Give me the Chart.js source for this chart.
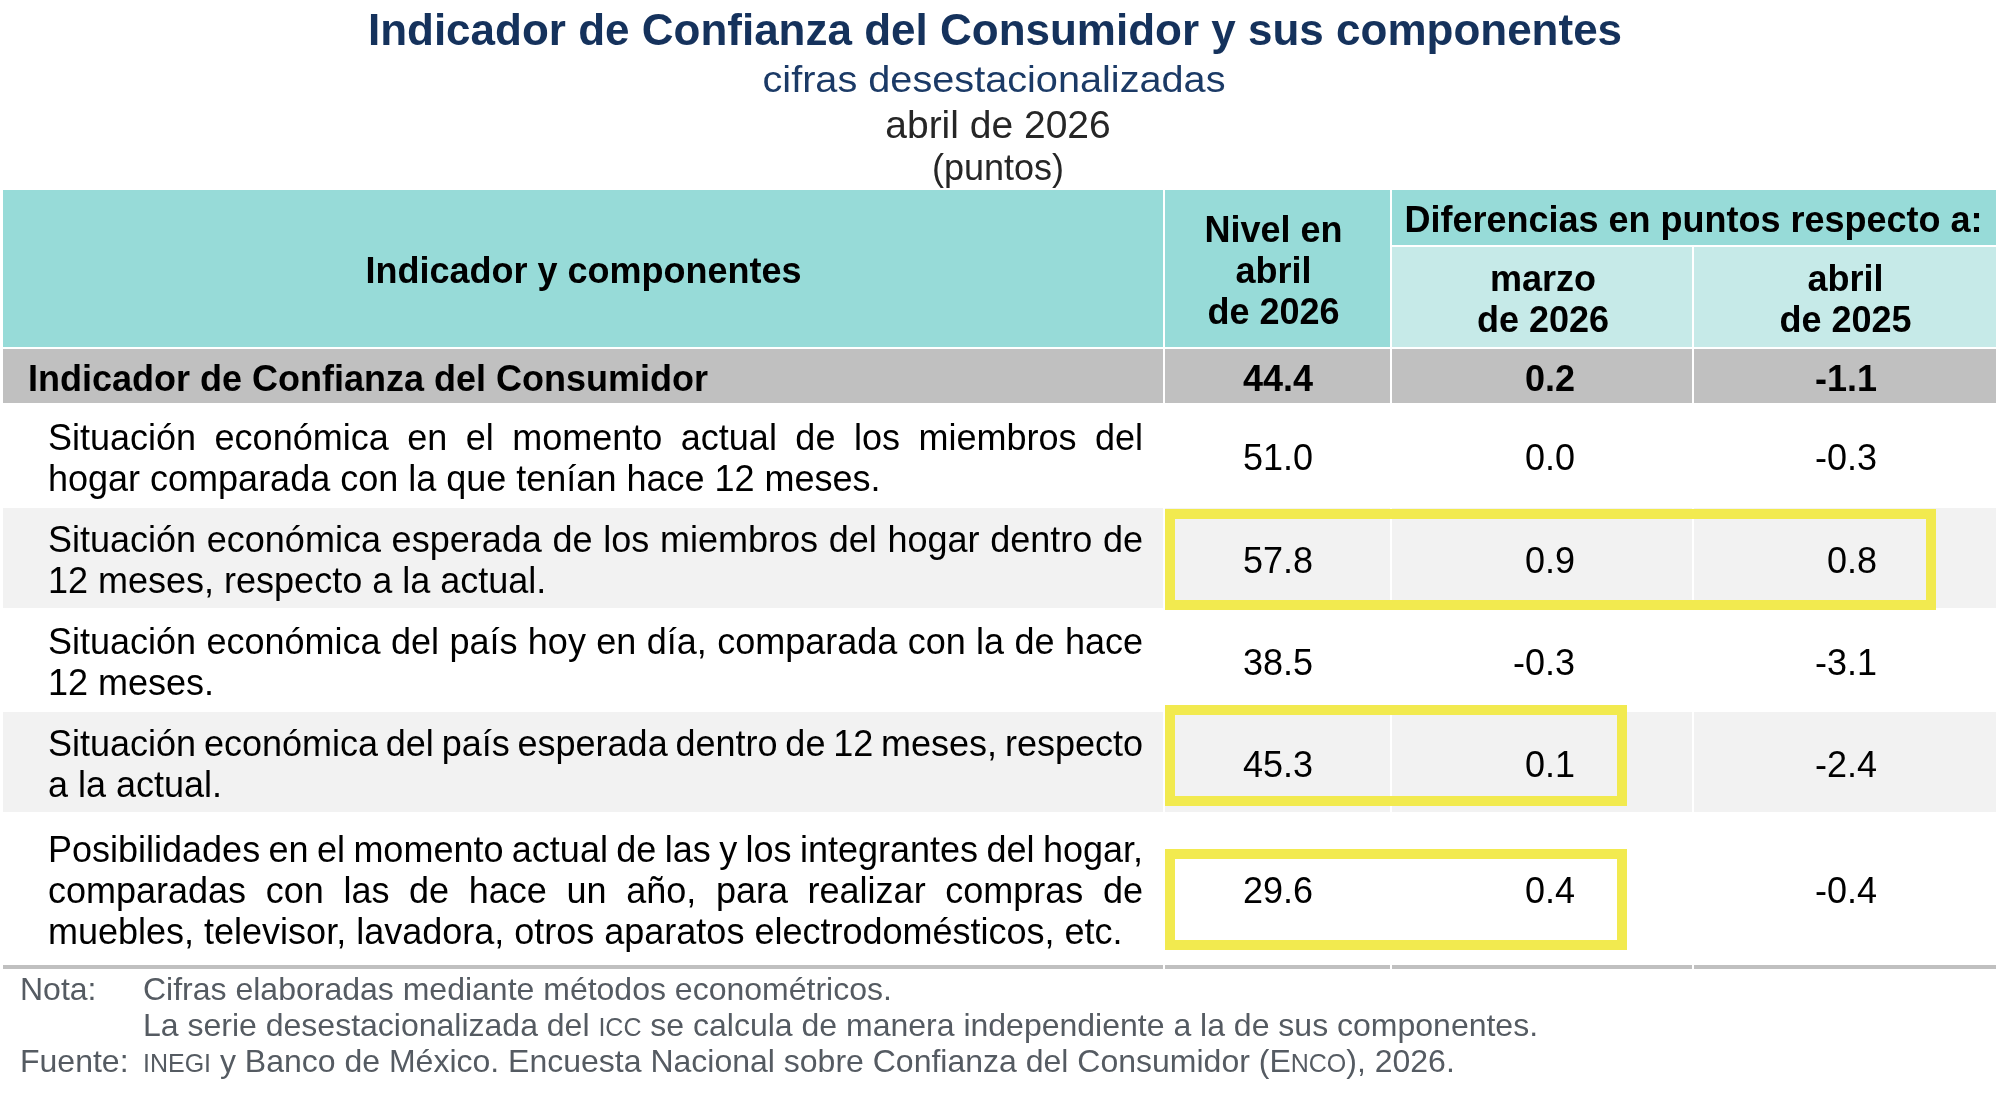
<!DOCTYPE html>
<html>
<head>
<meta charset="utf-8">
<script src="https://cdn.jsdelivr.net/npm/chart.js@4"></script>
<style>
  html, body { margin: 0; padding: 0; background: #ffffff; }
  #wrap { width: 2000px; height: 1094px; }
</style>
</head>
<body>
<div id="wrap"><canvas id="c" width="2000" height="1094"></canvas></div>
<script>
// ---------------- DATA ----------------
const title = "Indicador de Confianza del Consumidor y sus componentes";
const subtitle = "cifras desestacionalizadas";
const period = "abril de 2026";
const units = "(puntos)";

const headerMain = "Indicador y componentes";
const headerLevel = ["Nivel en", "abril", "de 2026"];
const headerDiff = "Diferencias en puntos respecto a:";
const headerDiffCols = [["marzo", "de 2026"], ["abril", "de 2025"]];

const categories = [
  ["Indicador de Confianza del Consumidor"],
  ["Situación económica en el momento actual de los miembros del",
   "hogar comparada con la que tenían hace 12 meses."],
  ["Situación económica esperada de los miembros del hogar dentro de",
   "12 meses, respecto a la actual."],
  ["Situación económica del país hoy en día, comparada con la de hace",
   "12 meses."],
  ["Situación económica del país esperada dentro de 12 meses, respecto",
   "a la actual."],
  ["Posibilidades en el momento actual de las y los integrantes del hogar,",
   "comparadas con las de hace un año, para realizar compras de",
   "muebles, televisor, lavadora, otros aparatos electrodomésticos, etc."]
];
const nivelAbril2026 = [44.4, 51.0, 57.8, 38.5, 45.3, 29.6];
const difMarzo2026  = [0.2, 0.0, 0.9, -0.3, 0.1, 0.4];
const difAbril2025  = [-1.1, -0.3, 0.8, -3.1, -2.4, -0.4];

// highlighted (yellow framed) groups: row index, first and last value column
const highlightRows = [2, 4, 5];
const highlightCols = [[1, 3], [1, 2], [1, 2]];

const notaLabel = "Nota:";
const notaLines = [
  [{ t: "Cifras elaboradas mediante métodos econométricos." }],
  [{ t: "La serie desestacionalizada del " }, { t: "ICC", sc: true }, { t: " se calcula de manera independiente a la de sus componentes." }]
];
const fuenteLabel = "Fuente:";
const fuenteLine = [{ t: "INEGI", sc: true }, { t: " y Banco de México. Encuesta Nacional sobre Confianza del Consumidor (E" }, { t: "NCO", sc: true }, { t: "), 2026." }];

// ---------------- LAYOUT / STYLE ----------------
const FONT = '"Liberation Sans", Arial, Helvetica, sans-serif';
const L = {
  colEdges: [3, 1164, 1391, 1693, 1996],
  gap: 2,
  headerTop: 190, diffBottom: 245, headerBottom: 347,
  rowEdges: [349, 403, 508, 608, 712, 812, 965],
  bottomLine: 4,
  labelX: 48, labelXBold: 28, labelRight: 1143, lineH: 41,
  valueRight: [1313, 1575, 1877],
  hlRight: [1936, 1627, 1627],
  hlTop: [509, 705, 849], hlBottom: [610, 806, 950],
  hlWidth: 10,
  titleY: 45, subY: 92, periodY: 138, unitsY: 180,
  titleX: 995, subX: 994, periodX: 998, unitsX: 998,
  subWidth: 463,
  textShift: 5, levelShiftX: -4,
  noteX: 20, noteTextX: 143, noteY: [991, 1027, 1063]
};
const C = {
  teal: "#97dbd8", tealLight: "#c6eae8", gray: "#c0c0c0", band: "#f2f2f2",
  yellow: "#f2ea4f", title: "#15325c", subtitle: "#1b3a66", period: "#262626",
  text: "#000000", note: "#555b62"
};

function fmt(v) { return v.toFixed(1); }

const tablePlugin = {
  id: 'tablePlugin',
  afterDraw(chart) {
    const ctx = chart.ctx;
    const xs = chart.scales.x, ys = chart.scales.y;
    const X = v => xs.getPixelForValue(v);
    const Y = v => ys.getPixelForValue(v);
    const rect = (x0, y0, x1, y1, col) => {
      ctx.fillStyle = col;
      ctx.fillRect(X(x0), Y(y0), X(x1) - X(x0), Y(y1) - Y(y0));
    };
    const E = L.colEdges, g = L.gap, sh = L.textShift;
    ctx.save();
    ctx.textBaseline = 'alphabetic';

    // ---- titles ----
    ctx.textAlign = 'center';
    ctx.fillStyle = C.title;
    ctx.font = 'bold 44px ' + FONT;
    ctx.fillText(title, X(L.titleX), Y(L.titleY));
    ctx.fillStyle = C.subtitle;
    ctx.font = '36px ' + FONT;
    const sw = ctx.measureText(subtitle).width;
    ctx.save();
    ctx.translate(X(L.subX), Y(L.subY));
    ctx.scale((X(L.subWidth) - X(0)) / sw, 1);
    ctx.fillText(subtitle, 0, 0);
    ctx.restore();
    ctx.fillStyle = C.period;
    ctx.font = '39px ' + FONT;
    ctx.fillText(period, X(L.periodX), Y(L.periodY));
    ctx.font = '36px ' + FONT;
    ctx.fillText(units, X(L.unitsX), Y(L.unitsY));

    // ---- header backgrounds ----
    rect(E[0], L.headerTop, E[1] - g / 2, L.headerBottom, C.teal);
    rect(E[1] + g / 2, L.headerTop, E[2] - g / 2, L.headerBottom, C.teal);
    rect(E[2] + g / 2, L.headerTop, E[4], L.diffBottom, C.teal);
    rect(E[2] + g / 2, L.diffBottom + g, E[3] - g / 2, L.headerBottom, C.tealLight);
    rect(E[3] + g / 2, L.diffBottom + g, E[4], L.headerBottom, C.tealLight);

    // ---- body backgrounds ----
    const R = L.rowEdges;
    categories.forEach((c, i) => {
      let col = null;
      if (i === 0) col = C.gray; else if (i % 2 === 0) col = C.band;
      if (!col) return;
      for (let k = 0; k < 4; k++) {
        const x0 = k === 0 ? E[0] : E[k] + g / 2;
        const x1 = k === 3 ? E[4] : E[k + 1] - g / 2;
        rect(x0, R[i], x1, R[i + 1], col);
      }
    });
    for (let k = 0; k < 4; k++) {
      const x0 = k === 0 ? E[0] : E[k] + g / 2;
      const x1 = k === 3 ? E[4] : E[k + 1] - g / 2;
      rect(x0, R[R.length - 1], x1, R[R.length - 1] + L.bottomLine, C.gray);
    }

    // ---- header text ----
    ctx.fillStyle = C.text;
    ctx.textBaseline = 'middle';
    ctx.textAlign = 'center';
    ctx.font = 'bold 36px ' + FONT;
    const hmid = (L.headerTop + L.headerBottom) / 2 + sh;
    ctx.fillText(headerMain, X((E[0] + E[1]) / 2), Y(hmid));
    headerLevel.forEach((t, j) => {
      ctx.fillText(t, X((E[1] + E[2]) / 2 + L.levelShiftX), Y(hmid + (j - 1) * L.lineH));
    });
    ctx.fillText(headerDiff, X((E[2] + E[4]) / 2), Y((L.headerTop + L.diffBottom) / 2 + sh));
    const smid = (L.diffBottom + g + L.headerBottom) / 2 + sh;
    headerDiffCols.forEach((lines, k) => {
      lines.forEach((t, j) => {
        ctx.fillText(t, X((E[k + 2] + E[k + 3]) / 2 + 1), Y(smid + (j - 0.5) * L.lineH));
      });
    });

    // ---- body text ----
    const series = [nivelAbril2026, difMarzo2026, difAbril2025];
    categories.forEach((lines, i) => {
      const mid = (R[i] + R[i + 1]) / 2 + sh;
      const bold = i === 0;
      ctx.font = (bold ? 'bold ' : '') + '36px ' + FONT;
      ctx.textAlign = 'left';
      const n = lines.length;
      lines.forEach((line, j) => {
        const y = Y(mid + (j - (n - 1) / 2) * L.lineH);
        const x0 = X(bold ? L.labelXBold : L.labelX);
        if (j < n - 1) {
          // justified line
          const words = line.split(' ');
          const ww = words.map(w => ctx.measureText(w).width);
          const total = ww.reduce((a, b) => a + b, 0);
          const space = (X(L.labelRight) - x0 - total) / (words.length - 1);
          let x = x0;
          words.forEach((w, k) => { ctx.fillText(w, x, y); x += ww[k] + space; });
        } else {
          ctx.fillText(line, x0, y);
        }
      });
      ctx.textAlign = 'right';
      series.forEach((s, k) => {
        ctx.fillText(fmt(s[i]), X(L.valueRight[k]), Y(mid));
      });
    });

    // ---- highlight frames ----
    ctx.strokeStyle = C.yellow;
    ctx.lineWidth = L.hlWidth;
    highlightRows.forEach((r, h) => {
      const x0 = E[highlightCols[h][0]] + 1;
      const x1 = L.hlRight[h];
      const y0 = L.hlTop[h], y1 = L.hlBottom[h];
      const hw = L.hlWidth / 2;
      ctx.strokeRect(X(x0 + hw), Y(y0 + hw), X(x1 - hw) - X(x0 + hw), Y(y1 - hw) - Y(y0 + hw));
    });

    // ---- notes ----
    ctx.fillStyle = C.note;
    ctx.textAlign = 'left';
    ctx.textBaseline = 'middle';
    const drawRuns = (runs, x, y) => {
      runs.forEach(r => {
        ctx.font = (r.sc ? '25px ' : '32px ') + FONT;
        ctx.fillText(r.t, x, y + (r.sc ? 2 : 0));
        x += ctx.measureText(r.t).width;
      });
    };
    ctx.font = '32px ' + FONT;
    ctx.fillText(notaLabel, X(L.noteX), Y(L.noteY[0]));
    drawRuns(notaLines[0], X(L.noteTextX), Y(L.noteY[0]));
    drawRuns(notaLines[1], X(L.noteTextX), Y(L.noteY[1]));
    ctx.font = '32px ' + FONT;
    ctx.fillText(fuenteLabel, X(L.noteX), Y(L.noteY[2]));
    drawRuns(fuenteLine, X(L.noteTextX), Y(L.noteY[2]));

    ctx.restore();
  }
};

new Chart(document.getElementById('c'), {
  type: 'scatter',
  data: { datasets: [{ data: [], pointRadius: 0 }] },
  options: {
    responsive: false,
    animation: false,
    devicePixelRatio: 1,
    layout: { padding: 0 },
    plugins: { legend: { display: false }, tooltip: { enabled: false }, title: { display: false } },
    scales: {
      x: { type: 'linear', min: 0, max: 2000, display: false },
      y: { type: 'linear', min: 0, max: 1094, reverse: true, display: false }
    }
  },
  plugins: [tablePlugin]
});
</script>
</body>
</html>
